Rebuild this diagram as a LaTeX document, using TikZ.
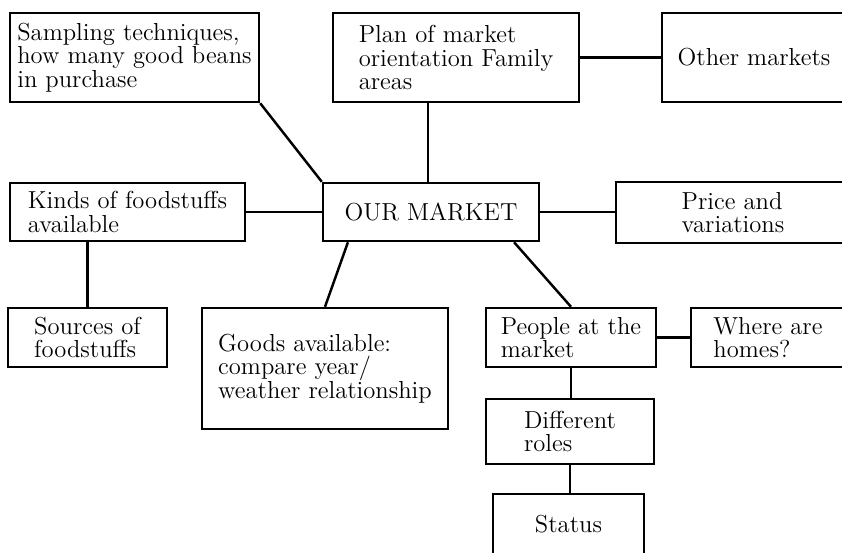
\documentclass[tikz,border=0pt]{standalone}
\begin{document}
\begin{tikzpicture}[x=0.02cm,y=-0.02cm,
        box/.style={draw, line width=1.4pt, inner sep=0pt, align=left,
            font=\fontsize{14}{13.5}\selectfont},
        link/.style={line width=1.4pt}]
    \useasboundingbox (0,0) rectangle (842,552);
    \clip (0,0) rectangle (842,552);
    \node[box, minimum width=4.98cm, minimum height=1.78cm] (samp) at (134.5,57.5) {Sampling techniques,\\how many good beans\\in purchase};
    \node[box, minimum width=4.92cm, minimum height=1.78cm] (plan) at (456,57.5) {Plan of market\\orientation Family\\areas};
    \node[box, minimum width=3.68cm, minimum height=1.78cm] (other) at (754,57.5) {Other markets};
    \node[box, minimum width=4.70cm, minimum height=1.16cm] (kinds) at (127.5,212) {Kinds of foodstuffs\\available};
    \node[box, minimum width=4.32cm, minimum height=1.16cm] (our) at (431,212) {OUR MARKET};
    \node[box, minimum width=4.68cm, minimum height=1.22cm] (price) at (733,212.5) {Price and\\variations};
    \node[box, minimum width=3.18cm, minimum height=1.18cm] (sources) at (87.5,337.5) {Sources of\\foodstuffs};
    \node[box, minimum width=4.92cm, minimum height=2.42cm] (goods) at (325,368.5) {Goods available:\\compare year/\\weather relationship};
    \node[box, minimum width=3.40cm, minimum height=1.18cm] (people) at (571,337.5) {People at the\\market};
    \node[box, minimum width=3.08cm, minimum height=1.18cm] (where) at (768,337.5) {Where are\\homes?};
    \node[box, minimum width=3.36cm, minimum height=1.30cm] (roles) at (570,431.5) {Different\\roles};
    \node[box, minimum width=3.02cm, minimum height=1.22cm] (status) at (568.5,524.5) {Status};
    \draw[link] (samp.south east) -- (our.north west);
    \draw[link] ([xshift=-0.06cm]our.north) -- ([xshift=-0.06cm]our.north |- plan.south);
    \draw[link] (plan.east) -- (other.west);
    \draw[link] (kinds.east) -- (kinds.east -| our.west);
    \draw[link] (our.east) -- (our.east -| price.west);
    \draw[link] (sources.north) -- (sources.north |- kinds.south);
    \draw[link] (our.200) -- (goods.north);
    \draw[link] (our.340) -- (people.north);
    \draw[link] (people.east) -- (people.east -| where.west);
    \draw[link] (people.south) -- (people.south |- roles.north);
    \draw[link] (roles.south) -- (roles.south |- status.north);
\end{tikzpicture}
\end{document}
